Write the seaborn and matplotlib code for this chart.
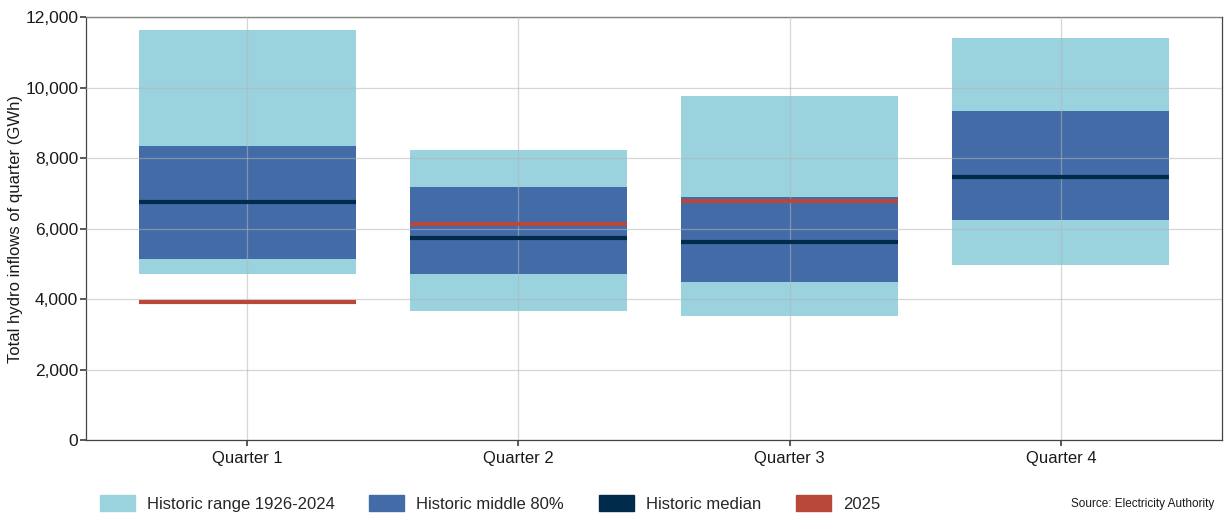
import numpy as np
import pandas as pd
import matplotlib
matplotlib.use("Agg")
import matplotlib.pyplot as plt
import seaborn as sns
from matplotlib.patches import Patch
from matplotlib.ticker import FuncFormatter

# ---------------------------------------------------------
# DATA (GWh)
# ---------------------------------------------------------
quarters = ["Quarter 1", "Quarter 2", "Quarter 3", "Quarter 4"]
range_low = [4730, 3680, 3545, 4985]
range_high = [11650, 8245, 9760, 11420]
mid80_low = [5135, 4720, 4490, 6260]
mid80_high = [8365, 7205, 6900, 9350]
median = [6770, 5750, 5645, 7480]
year_2025 = [3935, 6155, 6790, np.nan]

C_RANGE = "#9AD3DD"
C_MID = "#426BA8"
C_MEDIAN = "#002B4A"
C_2025 = "#B9483A"

sns.set_theme(style="white")
plt.rcParams["font.family"] = ["Liberation Sans", "DejaVu Sans"]

df = pd.DataFrame({
    "quarter": quarters,
    "range_h": np.array(range_high) - np.array(range_low),
    "mid_h": np.array(mid80_high) - np.array(mid80_low),
})

fig = plt.figure(figsize=(12.25, 5.14), dpi=100)
ax = fig.add_axes([0.0702, 0.143, 0.9274, 0.823])

sns.barplot(data=df, x="quarter", y="range_h", bottom=range_low, color=C_RANGE,
            width=0.8, errorbar=None, saturation=1, ax=ax, zorder=1, linewidth=0)
sns.barplot(data=df, x="quarter", y="mid_h", bottom=mid80_low, color=C_MID,
            width=0.8, errorbar=None, saturation=1, ax=ax, zorder=1, linewidth=0)

xs = np.arange(len(quarters))
ax.hlines(median, xs - 0.4, xs + 0.4, color=C_MEDIAN, linewidth=3, zorder=4)
ax.hlines(year_2025, xs - 0.4, xs + 0.4, color=C_2025, linewidth=3, zorder=4)

ax.set_xlim(-0.594, 3.594)
ax.set_ylim(0, 12000)
ax.set_yticks(range(0, 12001, 2000))
ax.yaxis.set_major_formatter(FuncFormatter(lambda v, p: f"{int(v):,}"))
ax.set_axisbelow(False)
ax.grid(True, color="#b5b5b5", linewidth=0.9, alpha=0.55, zorder=2)
for s in ax.spines.values():
    s.set_color("#444444")
    s.set_linewidth(0.9)
ax.tick_params(axis="both", which="both", length=4, color="#444444",
               labelsize=12, labelcolor="#1a1a1a", direction="out", left=True, bottom=True)
ax.tick_params(axis="y", labelsize=12.5, pad=1.5)
ax.set_xlabel("")
ax.set_ylabel("Total hydro inflows of quarter (GWh)", fontsize=12, color="#1a1a1a",
              labelpad=2)

handles = [Patch(color=C_RANGE, label="Historic range 1926-2024"),
           Patch(color=C_MID, label="Historic middle 80%"),
           Patch(color=C_MEDIAN, label="Historic median"),
           Patch(color=C_2025, label="2025")]
fig.legend(handles=handles, loc="center left", bbox_to_anchor=(0.069, 0.02),
           ncol=4, frameon=False, fontsize=12, handlelength=2.1, handleheight=1.1,
           columnspacing=2.1, handletextpad=0.72)
fig.text(0.991, 0.02, "Source: Electricity Authority", ha="right", va="center",
         fontsize=8.5, color="#1a1a1a")

fig.savefig("out.png", dpi=100)
